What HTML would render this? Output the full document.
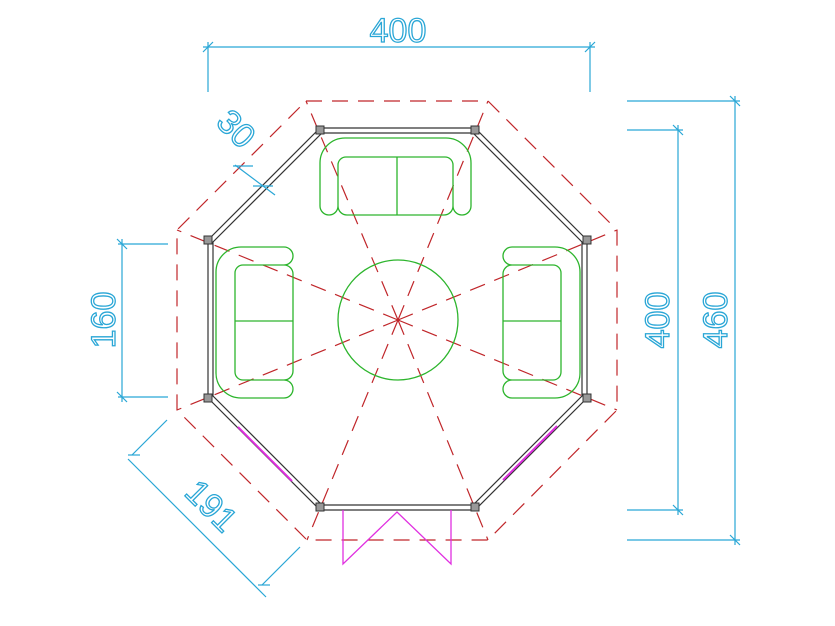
<!DOCTYPE html>
<html><head><style>html,body{margin:0;padding:0;background:#fff}svg{display:block}</style></head>
<body>
<svg width="835" height="626" viewBox="0 0 835 626" xmlns="http://www.w3.org/2000/svg">
<defs>
<g id="sofa" fill="none" stroke="#2db52d" stroke-width="1.3">
<path d="M293,256 a9,9 0 0 0 -9,-9 H241 a25,25 0 0 0 -25,25 V373 a25,25 0 0 0 25,25 H284 a9,9 0 0 0 9,-9 a9,9 0 0 0 -9,-9 a9,9 0 0 0 9,-9 V274 a9,9 0 0 0 -9,-9 a9,9 0 0 0 9,-9 Z"/>
<path d="M284,265 H243 a8,8 0 0 0 -8,8 V372 a8,8 0 0 0 8,8 H284"/>
<line x1="235" y1="321" x2="293" y2="321"/>
</g>
</defs>
<!-- outer dashed octagon -->
<polygon points="306,101 488,101 617,230 617,410 488,540 307,540 177,410 177,230" fill="none" stroke="#c0262a" stroke-width="1.2" stroke-dasharray="16,10"/>
<!-- spokes -->
<g stroke="#c0262a" stroke-width="1.2" stroke-dasharray="16,10">
<line x1="398" y1="320" x2="306" y2="101"/><line x1="398" y1="320" x2="488" y2="101"/>
<line x1="398" y1="320" x2="617" y2="230"/><line x1="398" y1="320" x2="617" y2="410"/>
<line x1="398" y1="320" x2="488" y2="540"/><line x1="398" y1="320" x2="307" y2="540"/>
<line x1="398" y1="320" x2="177" y2="410"/><line x1="398" y1="320" x2="177" y2="230"/>
</g>
<!-- walls -->
<g fill="none" stroke="#333" stroke-width="1.2">
<polygon points="320,128 475,128 587,240 587,398 475,510 320,510 208,398 208,240"/>
<polygon points="322,133 473,133 582,242 582,396 473,505 322,505 213,396 213,242"/>
</g>
<g fill="#999" stroke="#333" stroke-width="1">
<rect x="316" y="126" width="8" height="8"/><rect x="471" y="126" width="8" height="8"/>
<rect x="583" y="236" width="8" height="8"/><rect x="583" y="394" width="8" height="8"/>
<rect x="471" y="503" width="8" height="8"/><rect x="316" y="503" width="8" height="8"/>
<rect x="204" y="394" width="8" height="8"/><rect x="204" y="236" width="8" height="8"/>
</g>
<!-- windows -->
<g stroke="#e030e0" stroke-width="2">
<line x1="238" y1="427" x2="292" y2="481"/><line x1="557" y1="426" x2="503" y2="480"/>
</g>
<!-- door -->
<polyline points="343,510 343,564 397,512 451,564 451,510" fill="none" stroke="#e030e0" stroke-width="1.3"/>
<!-- furniture -->
<circle cx="398" cy="320" r="60" fill="none" stroke="#2db52d" stroke-width="1.3"/>
<use href="#sofa"/>
<use href="#sofa" transform="translate(796,0) scale(-1,1)"/>
<use href="#sofa" transform="rotate(90 398 320)"/>
<!-- dimensions -->
<g stroke="#29a6d6" stroke-width="1.2" fill="none">
<line x1="208" y1="42" x2="208" y2="92"/><line x1="590" y1="42" x2="590" y2="92"/>
<line x1="203" y1="47" x2="595" y2="47"/>
<line x1="203" y1="52" x2="213" y2="42"/><line x1="585" y1="52" x2="595" y2="42"/>
<line x1="627" y1="101" x2="740" y2="101"/><line x1="627" y1="540" x2="740" y2="540"/>
<line x1="735" y1="96" x2="735" y2="545"/>
<line x1="730" y1="96" x2="740" y2="106"/><line x1="730" y1="535" x2="740" y2="545"/>
<line x1="627" y1="130" x2="683" y2="130"/><line x1="627" y1="510" x2="683" y2="510"/>
<line x1="678" y1="125" x2="678" y2="515"/>
<line x1="673" y1="125" x2="683" y2="135"/><line x1="673" y1="505" x2="683" y2="515"/>
<line x1="118" y1="244" x2="168" y2="244"/><line x1="118" y1="397" x2="168" y2="397"/>
<line x1="122" y1="239" x2="122" y2="402"/>
<line x1="117" y1="239" x2="127" y2="249"/><line x1="117" y1="392" x2="127" y2="402"/>
<line x1="128" y1="459" x2="266" y2="597"/>
<line x1="132" y1="455" x2="167" y2="420"/><line x1="262" y1="585" x2="300" y2="547"/>
<line x1="128" y1="455" x2="140" y2="455"/><line x1="258" y1="585" x2="270" y2="585"/>
<line x1="235" y1="165" x2="275" y2="195"/>
<line x1="233" y1="166" x2="253" y2="166"/><line x1="253" y1="186" x2="273" y2="186"/>
</g>
<g font-family="Liberation Sans, sans-serif" font-size="34" fill="none" stroke="#29a6d6" stroke-width="1.3" text-anchor="middle">
<text x="398" y="42">400</text>
<text transform="translate(727,320) rotate(-90)">460</text>
<text transform="translate(669,320) rotate(-90)">400</text>
<text transform="translate(115,320) rotate(-90)">160</text>
<text transform="translate(203,514) rotate(45)">191</text>
<text transform="translate(228,137) rotate(45)">30</text>
</g>
</svg>
</body></html>
